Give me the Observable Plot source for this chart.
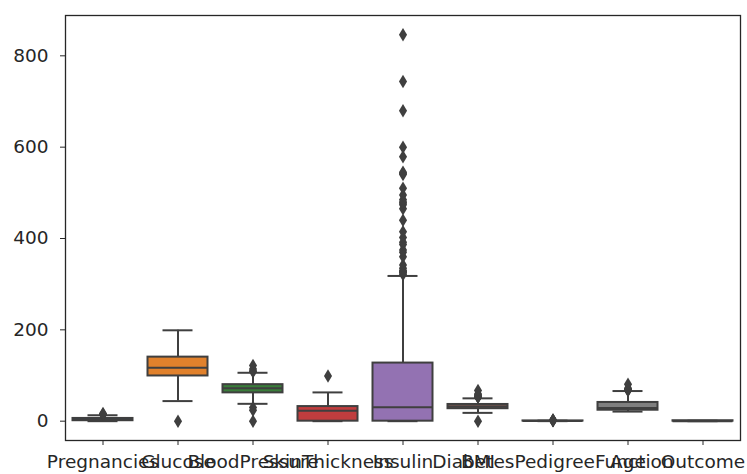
<!DOCTYPE html>
<html>
<head>
<meta charset="utf-8">
<script src="https://cdn.jsdelivr.net/npm/d3@7"></script>
<script src="https://cdn.jsdelivr.net/npm/@observablehq/plot@0.6"></script>
<style>
  html, body { margin: 0; padding: 0; background: #fff; }
  svg { display: block; }
</style>
</head>
<body>
<div id="chart"></div>
<script>
// Columns of the Pima diabetes data set
const categories = ["Pregnancies", "Glucose", "BloodPressure", "SkinThickness", "Insulin", "BMI", "DiabetesPedigreeFunction", "Age", "Outcome"];
// Box statistics per column
const q1      = [1, 99, 62, 0, 0, 27.3, 0.244, 24, 0];
const median  = [3, 117, 72, 23, 30.5, 32, 0.373, 29, 0];
const q3      = [6, 140.25, 80, 32, 127.25, 36.6, 0.626, 41, 1];
const whiskLo = [0, 44, 38, 0, 0, 18.2, 0.078, 21, 0];
const whiskHi = [13, 199, 106, 63, 318, 50, 1.191, 66, 1];
// Outliers per column
const outliers = [
  [14, 15, 17],
  [0],
  [0, 24, 30, 108, 110, 114, 122],
  [99],
  [321, 325, 326, 328, 330, 335, 342, 360, 370, 375, 387, 392, 402, 415, 440, 465, 474, 478, 480, 485, 495, 510, 540, 543, 545, 579, 600, 680, 744, 846],
  [0, 52.3, 52.9, 53.2, 55, 57.3, 59.4, 67.1],
  [1.2, 1.4, 1.6, 1.8, 2.1, 2.42],
  [67, 68, 69, 70, 72, 81],
  []
];
const colors = ["#3274a1", "#e1812c", "#3a7d3a", "#c03d3e", "#9372b2", "#845b53", "#d684bd", "#7f7f7f", "#a9aa35"];
const yTicks = [0, 200, 400, 600, 800];

const boxes = categories.map((c, i) => ({c, q1: q1[i], med: median[i], q3: q3[i], lo: whiskLo[i], hi: whiskHi[i]}));
const pts = categories.flatMap((c, i) => outliers[i].map(v => ({c, v})));

const edge = "#3f3f3f";
const thinDiamond = {
  draw(context, size) {
    const r = Math.sqrt(size / Math.PI);
    const h = r * 1.5, w = r * 0.9;
    context.moveTo(0, -h);
    context.lineTo(w, 0);
    context.lineTo(0, h);
    context.lineTo(-w, 0);
    context.closePath();
  }
};

const chart = Plot.plot({
  width: 747,
  height: 474,
  marginLeft: 65,
  marginRight: 7,
  marginTop: 15,
  marginBottom: 34,
  style: {fontFamily: "DejaVu Sans", fontSize: "18.5px", color: "#262626", background: "#fff"},
  x: {domain: categories, padding: 0, label: null},
  y: {domain: [-42.3, 888.3], label: null},
  color: {domain: categories, range: colors},
  marks: [
    Plot.ruleX(boxes, {x: "c", y1: "q3", y2: "hi", stroke: edge, strokeWidth: 2}),
    Plot.ruleX(boxes, {x: "c", y1: "lo", y2: "q1", stroke: edge, strokeWidth: 2}),
    Plot.tickY(boxes, {x: "c", y: "hi", stroke: edge, strokeWidth: 2, insetLeft: 22.5, insetRight: 22.5}),
    Plot.tickY(boxes, {x: "c", y: "lo", stroke: edge, strokeWidth: 2, insetLeft: 22.5, insetRight: 22.5}),
    Plot.barY(boxes, {x: "c", y1: "q1", y2: "q3", fill: "c", stroke: edge, strokeWidth: 2, insetLeft: 7.5, insetRight: 7.5}),
    Plot.tickY(boxes, {x: "c", y: "med", stroke: edge, strokeWidth: 2, insetLeft: 7.5, insetRight: 7.5}),
    Plot.dot(pts, {x: "c", y: "v", r: 4.5, symbol: thinDiamond, fill: edge, stroke: "none"}),
    Plot.frame({stroke: "#262626", strokeWidth: 1.3}),
    Plot.axisY({ticks: yTicks, tickSize: 5, tickPadding: 12, label: null, stroke: "#262626"}),
    Plot.axisX({tickSize: 5, tickPadding: 9, label: null, stroke: "#262626"})
  ]
});
document.getElementById("chart").appendChild(chart);
</script>
</body>
</html>
